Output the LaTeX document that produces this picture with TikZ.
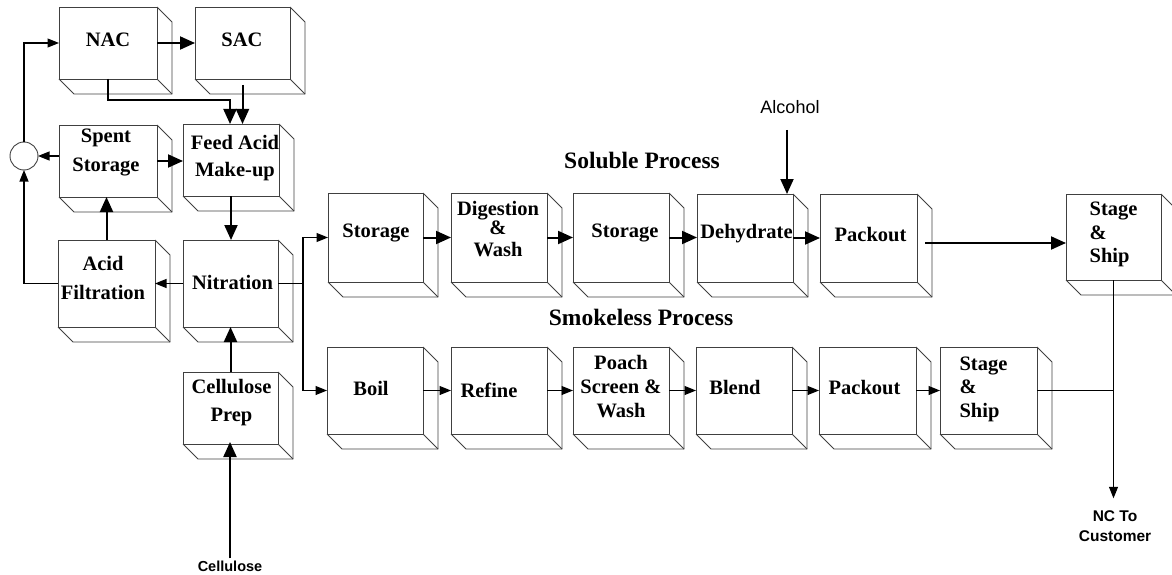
\documentclass[tikz,border=0pt]{standalone}
\usepackage{fontspec}
\setmainfont{Liberation Serif}
\newfontfamily\labelsans{Liberation Sans}
\usetikzlibrary{arrows.meta,calc}
\begin{document}
\begin{tikzpicture}[x=1pt,y=-1pt,
  boxface/.style={draw=black!75, line width=0.9pt, fill=white, inner sep=0pt, outer sep=0pt},
  boxedge/.style={draw=black!75, line width=0.9pt, line join=miter},
  boxtext/.style={font=\bfseries\fontsize{20.5}{27}\selectfont, align=center, inner sep=0pt},
  shiptext/.style={font=\bfseries\fontsize{20.5}{23.5}\selectfont, align=left, inner sep=0pt},
  proclabel/.style={font=\bfseries\fontsize{23.5}{28}\selectfont, inner sep=0pt},
  sidelabel/.style={font=\labelsans\fontsize{15.5}{20}\selectfont, align=center, inner sep=0pt},
  thickarr/.style={line width=2pt, -{Triangle[length=15pt,width=13pt]}},
  thinarr/.style={line width=1.1pt, -{Triangle[length=11.5pt,width=9pt]}},
  plainline/.style={line width=1.1pt}]
\useasboundingbox (0,0) rectangle (1172,575);

% ---------- boxes (front faces) ----------
\node[boxface, minimum width=98pt, minimum height=72pt] (nac)    at (108,43) {};
\node[boxface, minimum width=95pt, minimum height=72pt] (sac)    at (242.5,43) {};
\node[boxface, minimum width=98pt, minimum height=72pt] (spent)  at (108,161) {};
\node[boxface, minimum width=96pt, minimum height=72pt] (feed)   at (231,160) {};
\node[boxface, minimum width=97pt, minimum height=87pt] (acidf)  at (106.5,283.5) {};
\node[boxface, minimum width=95pt, minimum height=87pt] (nitr)   at (230.5,283.5) {};
\node[boxface, minimum width=95pt, minimum height=72pt] (cell)   at (230.5,408) {};

\node[boxface, minimum width=95pt, minimum height=89pt] (stor1)  at (375.5,237.5) {};
\node[boxface, minimum width=96pt, minimum height=89pt] (dig)    at (499,237.5) {};
\node[boxface, minimum width=96pt, minimum height=89pt] (stor2)  at (621,237.5) {};
\node[boxface, minimum width=96pt, minimum height=88pt] (dehy)   at (745,238) {};
\node[boxface, minimum width=97pt, minimum height=88pt] (pack1)  at (868.5,238) {};
\node[boxface, minimum width=95pt, minimum height=86pt] (ship1)  at (1113.5,237) {};

\node[boxface, minimum width=96pt, minimum height=87pt] (boil)   at (375,390.5) {};
\node[boxface, minimum width=96pt, minimum height=87pt] (refine) at (499,390.5) {};
\node[boxface, minimum width=96pt, minimum height=87pt] (poach)  at (621,390.5) {};
\node[boxface, minimum width=96pt, minimum height=87pt] (blend)  at (744,390.5) {};
\node[boxface, minimum width=97pt, minimum height=87pt] (pack2)  at (867.5,390.5) {};
\node[boxface, minimum width=97pt, minimum height=87pt] (ship2)  at (988.5,390.5) {};

% ---------- 3D depth of every box ----------
\foreach \n in {nac,sac,spent,feed,acidf,nitr,cell,stor1,dig,stor2,dehy,pack1,ship1,boil,refine,poach,blend,pack2,ship2}{
  \draw[boxedge] (\n.north east) -- ++(15,15) -- ($(\n.south east)+(15,15)$)
                 -- ($(\n.south west)+(15,15)$) -- (\n.south west);
  \draw[boxedge] (\n.south east) -- ++(15,15);
}

% ---------- box texts ----------
\node[boxtext] (nac-t)    at (108,40) {NAC};
\node[boxtext] (sac-t)    at (242,40) {SAC};
\node[boxtext, font=\bfseries\fontsize{20.5}{29}\selectfont] (spent-t) at (106,152.5) {Spent\\Storage};
\node[boxtext] (feed-t)   at (235,158.5) {Feed Acid\\Make-up};
\node[boxtext, font=\bfseries\fontsize{20.5}{29}\selectfont] (acidf-t) at (103,277.5) {Acid\\Filtration};
\node[boxtext] (nitr-t)   at (232.5,282) {Nitration};
\node[boxtext, font=\bfseries\fontsize{20.5}{28}\selectfont] (cell-t) at (231.5,403) {Cellulose\\Prep};

\node[boxtext] (stor1-t)  at (376,233) {Storage};
\node[boxtext, font=\bfseries\fontsize{20.5}{21}\selectfont] (dig-t) at (498,229.5) {Digestion\\[-2pt]\&\hspace*{23pt}\\[1pt]Wash};
\node[boxtext] (stor2-t)  at (625,233) {Storage};
\node[boxtext] (dehy-t)   at (746.5,234) {Dehydrate};
\node[boxtext] (pack1-t)  at (870.5,235) {Packout};
\node[shiptext] (ship1-t) at (1113.5,234.5) {Stage\\\&\\Ship};

\node[boxtext] (boil-t)   at (371,388) {Boil};
\node[boxtext] (refine-t) at (489,390) {Refine};
\node[boxtext, font=\bfseries\fontsize{20.5}{24}\selectfont] (poach-t) at (621,387) {Poach\\Screen \&\\Wash};
\node[boxtext] (blend-t)  at (735,387) {Blend};
\node[boxtext] (pack2-t)  at (864.5,388) {Packout};
\node[shiptext] (ship2-t) at (983.5,389) {Stage\\\&\\Ship};

% ---------- free labels ----------
\node[proclabel] (sol)   at (642,160) {Soluble Process};
\node[proclabel] (smk)   at (641,317) {Smokeless Process};
\node[font=\labelsans\fontsize{18}{20}\selectfont, inner sep=0pt] (alc) at (790,107) {Alcohol};
\node[sidelabel, font=\labelsans\bfseries\fontsize{14.5}{18}\selectfont] (celllab) at (230,566) {Cellulose};
\node[sidelabel, font=\labelsans\bfseries\fontsize{15.5}{20}\selectfont] (nc) at (1115,526) {NC To\\Customer};

% ---------- recycle circle ----------
\node[draw=black!75, line width=0.9pt, circle, minimum size=28pt, inner sep=0pt, outer sep=0pt] (circ) at (24,156) {};

% ---------- connectors: acid loop ----------
\draw[thinarr] (circ.north) |- (nac.west);
\draw[thinarr] (spent.west |- circ.east) -- (circ.east);
\draw[thinarr] (acidf.west) -| (circ.south);
\draw[thickarr] (nac.east) -- (nac.east -| sac.west);
\draw[thickarr] (nac.south) -- ++(0,21) -| ([xshift=-1pt]feed.north);
\coordinate (sacout) at ($(sac.south)+(0,6)$);
\draw[thickarr] (sacout) -- (sacout |- feed.north);
\draw[thickarr] (spent.east) -- (spent.east -| feed.west);
\draw[thickarr] (acidf.north) -- (acidf.north |- spent.south);
\draw[thinarr] (nitr.west) -- (nitr.west -| acidf.east);
\draw[thickarr] (feed.south) -- (feed.south |- nitr.north);
\draw[thickarr] (cell.north) -- (cell.north |- nitr.south);
\draw[thickarr] ([yshift=2pt]celllab.north) -- ([yshift=2pt]celllab.north |- cell.south);

% ---------- split to the two processes ----------
\coordinate (split) at ($(nitr.east)+(25,0)$);
\draw[plainline] (nitr.east) -- (split);
\draw[thinarr] (split) |- (stor1.west);
\draw[thinarr] (split) |- (boil.west);

% ---------- soluble process ----------
\draw[thickarr] (stor1.east) -- (stor1.east -| dig.west);
\draw[thickarr] (dig.east) -- (dig.east -| stor2.west);
\draw[thickarr] (stor2.east) -- (stor2.east -| dehy.west);
\draw[thickarr] (dehy.east) -- (dehy.east -| pack1.west);
\draw[thickarr] ([xshift=8pt,yshift=-5pt]pack1.east) -- ([yshift=-5pt]pack1.east -| ship1.west);
\coordinate (alcout) at (787,130);
\draw[thickarr] (alcout) -- (alcout |- dehy.north);

% ---------- smokeless process ----------
\draw[thinarr] (boil.east) -- (boil.east -| refine.west);
\draw[thinarr] (refine.east) -- (refine.east -| poach.west);
\draw[thinarr] (poach.east) -- (poach.east -| blend.west);
\draw[thinarr] (blend.east) -- (blend.east -| pack2.west);
\draw[thinarr] (pack2.east) -- (pack2.east -| ship2.west);

% ---------- to customer ----------
\draw[plainline] (ship2.east) -- (ship2.east -| ship1.south);
\draw[thinarr] (ship1.south) -- ([yshift=12pt]ship1.south |- nc.north);
\end{tikzpicture}
\end{document}
